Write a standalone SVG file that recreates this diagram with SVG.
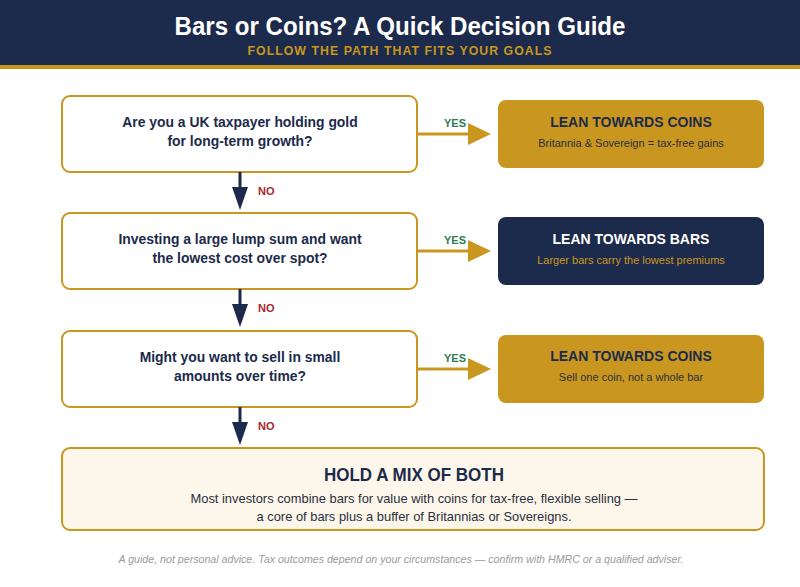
<svg xmlns="http://www.w3.org/2000/svg" width="800" height="587" viewBox="0 0 800 587">
<style>
.q{fill:#fff;stroke:#c9971f;stroke-width:2}
.qt{font-family:"Liberation Sans",Arial,sans-serif;font-weight:bold;font-size:13.9px;fill:#1c2a4b;text-anchor:middle}
.gold{fill:#c9971f}
.navy{fill:#1c2a4b}
.rt{font-family:"Liberation Sans",Arial,sans-serif;font-weight:bold;font-size:14px;text-anchor:middle}
.rs{font-family:"Liberation Sans",Arial,sans-serif;font-size:11px;text-anchor:middle}
.yes{font-family:"Liberation Sans",Arial,sans-serif;font-weight:bold;font-size:11px;fill:#2e7d4f;text-anchor:middle}
.no{font-family:"Liberation Sans",Arial,sans-serif;font-weight:bold;font-size:11px;fill:#a52a2a}
.yl{stroke:#c9971f;stroke-width:3;fill:none}
.nl{stroke:#1c2a4b;stroke-width:3;fill:none}
.cn{font-family:"Liberation Sans",Arial,sans-serif;text-anchor:middle}
</style>
<rect width="800" height="587" fill="#fff"/>
<g id="header">
<rect x="0" y="0" width="800" height="66" fill="#1c2a4b"/>
<rect x="0" y="65" width="800" height="4" fill="#c9971f"/>
<text class="cn" x="400" y="35" font-weight="bold" font-size="26" fill="#fff" textLength="451" lengthAdjust="spacingAndGlyphs">Bars or Coins? A Quick Decision Guide</text>
<text class="cn" x="400" y="55" font-weight="bold" font-size="12" letter-spacing="1" fill="#c9971f" textLength="305" lengthAdjust="spacingAndGlyphs">FOLLOW THE PATH THAT FITS YOUR GOALS</text>
</g>
<g id="q1">
<rect class="q" x="62" y="96" width="355" height="76" rx="8"/>
<text class="qt" x="240" y="127">Are you a UK taxpayer holding gold</text>
<text class="qt" x="240" y="146">for long-term growth?</text>
</g>
<g id="q2">
<rect class="q" x="62" y="213" width="355" height="76" rx="8"/>
<text class="qt" x="240" y="244">Investing a large lump sum and want</text>
<text class="qt" x="240" y="263">the lowest cost over spot?</text>
</g>
<g id="q3">
<rect class="q" x="62" y="331" width="355" height="76" rx="8"/>
<text class="qt" x="240" y="362">Might you want to sell in small</text>
<text class="qt" x="240" y="381">amounts over time?</text>
</g>
<g id="r1">
<rect class="gold" x="498" y="100" width="266" height="68" rx="8"/>
<text class="rt" x="631" y="127" fill="#1c2a4b">LEAN TOWARDS COINS</text>
<text class="rs" x="631" y="147" fill="#2a2f3e">Britannia &amp; Sovereign = tax-free gains</text>
</g>
<g id="r2">
<rect class="navy" x="498" y="217" width="266" height="68" rx="8"/>
<text class="rt" x="631" y="244" fill="#fff">LEAN TOWARDS BARS</text>
<text class="rs" x="631" y="264" fill="#c9971f">Larger bars carry the lowest premiums</text>
</g>
<g id="r3">
<rect class="gold" x="498" y="335" width="266" height="68" rx="8"/>
<text class="rt" x="631" y="361" fill="#1c2a4b">LEAN TOWARDS COINS</text>
<text class="rs" x="631" y="381" fill="#2a2f3e">Sell one coin, not a whole bar</text>
</g>
<g id="final">
<rect x="62" y="448" width="702" height="82" rx="8" fill="#fcf7ea" stroke="#c9971f" stroke-width="2"/>
<text class="cn" x="414" y="481" font-weight="bold" font-size="18" fill="#1c2a4b" textLength="180" lengthAdjust="spacingAndGlyphs">HOLD A MIX OF BOTH</text>
<text class="cn" x="414" y="503" font-size="13.5" fill="#2a2f3e" textLength="447" lengthAdjust="spacingAndGlyphs">Most investors combine bars for value with coins for tax-free, flexible selling —</text>
<text class="cn" x="414" y="521" font-size="13.5" fill="#2a2f3e" textLength="315" lengthAdjust="spacingAndGlyphs">a core of bars plus a buffer of Britannias or Sovereigns.</text>
</g>
<g id="connectors">
<line class="yl" x1="417" y1="134" x2="470" y2="134"/>
<polygon class="gold" points="468,123 491,134 468,145"/>
<text class="yes" x="455" y="127">YES</text>
<line class="yl" x1="417" y1="251" x2="470" y2="251"/>
<polygon class="gold" points="468,240 491,251 468,262"/>
<text class="yes" x="455" y="244">YES</text>
<line class="yl" x1="417" y1="369" x2="470" y2="369"/>
<polygon class="gold" points="468,358 491,369 468,380"/>
<text class="yes" x="455" y="362">YES</text>
<line class="nl" x1="240" y1="172" x2="240" y2="188"/>
<polygon class="navy" points="232,187 248,187 240,210"/>
<text class="no" x="258" y="195">NO</text>
<line class="nl" x1="240" y1="289" x2="240" y2="305"/>
<polygon class="navy" points="232,304 248,304 240,327"/>
<text class="no" x="258" y="312">NO</text>
<line class="nl" x1="240" y1="407" x2="240" y2="423"/>
<polygon class="navy" points="232,422 248,422 240,445"/>
<text class="no" x="258" y="430">NO</text>
</g>
<text class="cn" x="401" y="563" font-style="italic" font-size="11.5" fill="#9a9a9a" textLength="565" lengthAdjust="spacingAndGlyphs">A guide, not personal advice. Tax outcomes depend on your circumstances — confirm with HMRC or a qualified adviser.</text>
</svg>
